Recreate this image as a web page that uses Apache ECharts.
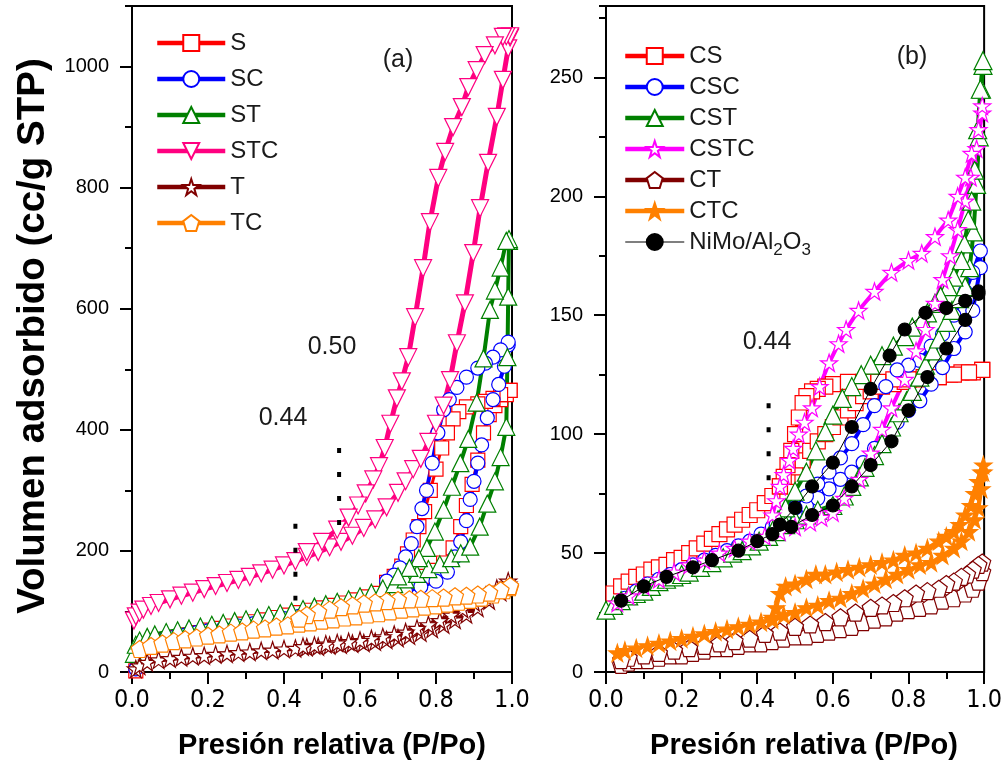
<!DOCTYPE html>
<html><head><meta charset="utf-8">
<script src="https://cdn.jsdelivr.net/npm/echarts@6/dist/echarts.min.js"></script>
<style>html,body{margin:0;padding:0;background:#fff}#c{width:1005px;height:769px}</style>
</head><body><div id="c"></div>
<script>
// ---------- tick values ----------
const xTicks = [0, 0.2, 0.4, 0.6, 0.8, 1.0];
const yTicksA = [0, 200, 400, 600, 800, 1000];
const yTicksB = [0, 50, 100, 150, 200, 250];

// ---------- panel (a) : [P/Po, volume] adsorption / desorption ----------
const S_ads = [[0.01,2],[0.02,20],[0.03,35],[0.05,45],[0.08,52],[0.11,57],[0.14,61],[0.17,65],[0.2,69],[0.23,72],[0.26,76],[0.29,79],[0.32,83],[0.35,86],[0.38,90],[0.41,94],[0.44,98],[0.47,102],[0.5,106],[0.53,110],[0.56,114],[0.59,119],[0.62,124],[0.65,130],[0.68,136],[0.71,143],[0.74,150],[0.77,158],[0.8,168],[0.82,180],[0.845,205],[0.865,240],[0.88,275],[0.895,310],[0.91,350],[0.925,395],[0.94,425],[0.955,440],[0.97,450],[0.985,458],[0.995,465]];
const S_des = [[0.995,465],[0.97,458],[0.95,452],[0.93,447],[0.91,443],[0.88,438],[0.86,430],[0.845,418],[0.83,395],[0.815,370],[0.8,335],[0.785,300],[0.77,265],[0.755,240],[0.74,218],[0.725,195],[0.71,175],[0.69,158],[0.67,148]];

const SC_ads = [[0.01,5],[0.02,25],[0.03,38],[0.05,46],[0.08,52],[0.11,57],[0.14,61],[0.17,65],[0.2,68],[0.24,72],[0.28,76],[0.32,80],[0.36,84],[0.4,88],[0.44,92],[0.48,96],[0.52,101],[0.56,106],[0.6,112],[0.64,118],[0.68,125],[0.72,133],[0.76,141],[0.8,150],[0.83,165],[0.85,190],[0.865,215],[0.88,250],[0.89,285],[0.9,315],[0.91,345],[0.92,375],[0.935,420],[0.95,450],[0.965,475],[0.98,505],[0.99,540]];
const SC_des = [[0.99,545],[0.97,532],[0.95,520],[0.93,510],[0.91,502],[0.88,487],[0.855,470],[0.835,450],[0.82,433],[0.805,395],[0.79,345],[0.775,300],[0.763,270],[0.75,240],[0.735,212],[0.72,190],[0.705,172],[0.69,160],[0.67,150]];

const ST_ads = [[0.005,30],[0.01,45],[0.02,52],[0.04,58],[0.06,62],[0.09,66],[0.12,69],[0.15,72],[0.18,75],[0.21,78],[0.24,81],[0.27,84],[0.3,87],[0.33,90],[0.36,94],[0.39,97],[0.42,100],[0.45,104],[0.48,108],[0.51,112],[0.54,116],[0.57,120],[0.6,125],[0.63,131],[0.66,138],[0.69,145],[0.72,153],[0.75,162],[0.78,170],[0.81,178],[0.84,188],[0.865,196],[0.89,207],[0.915,240],[0.935,278],[0.955,315],[0.97,355],[0.985,405],[0.988,520],[0.99,620],[0.992,712]];
const ST_des = [[0.992,715],[0.985,712],[0.97,668],[0.955,630],[0.942,598],[0.925,518],[0.907,445],[0.885,385],[0.864,345],[0.842,306],[0.82,268],[0.797,232],[0.776,205],[0.755,188],[0.73,172],[0.7,158]];

const STC_ads = [[0.005,85],[0.01,92],[0.02,98],[0.03,103],[0.05,109],[0.07,114],[0.1,120],[0.13,126],[0.16,131],[0.19,137],[0.22,142],[0.25,147],[0.28,152],[0.31,157],[0.34,163],[0.37,169],[0.4,176],[0.43,183],[0.46,190],[0.49,198],[0.52,206],[0.55,215],[0.58,225],[0.61,238],[0.64,252],[0.67,272],[0.7,296],[0.72,315],[0.74,335],[0.76,352],[0.78,380],[0.8,410],[0.82,440],[0.837,482],[0.855,543],[0.876,609],[0.898,692],[0.916,766],[0.937,841],[0.96,917],[0.976,978],[0.99,1030],[0.995,1048]];
const STC_des = [[0.995,1050],[0.985,1050],[0.976,1049],[0.955,1035],[0.928,1019],[0.907,994],[0.885,966],[0.868,933],[0.845,900],[0.824,859],[0.806,816],[0.784,743],[0.766,667],[0.745,586],[0.727,520],[0.71,480],[0.697,452],[0.68,410],[0.665,370],[0.65,340],[0.635,318],[0.615,295],[0.595,275],[0.57,255],[0.54,235],[0.5,215],[0.46,198]];

const T_ads = [[0.01,5],[0.02,10],[0.04,16],[0.07,20],[0.1,22],[0.13,24],[0.16,26],[0.19,27],[0.22,29],[0.25,30],[0.28,32],[0.31,33],[0.34,35],[0.37,36],[0.4,38],[0.43,39],[0.46,41],[0.49,42],[0.52,44],[0.55,45],[0.58,47],[0.61,48],[0.64,50],[0.67,53],[0.7,56],[0.73,60],[0.76,65],[0.79,71],[0.82,78],[0.85,86],[0.88,95],[0.91,106],[0.94,118],[0.97,132],[0.99,145]];
const T_des = [[0.99,150],[0.96,138],[0.93,126],[0.9,115],[0.87,104],[0.84,94],[0.81,85],[0.78,78],[0.75,72],[0.72,66],[0.69,62],[0.66,58],[0.63,55],[0.6,52],[0.57,50],[0.54,48],[0.51,46],[0.48,44],[0.45,42]];

const TC_ads = [[0.02,38],[0.05,43],[0.08,47],[0.11,51],[0.14,54],[0.17,57],[0.2,60],[0.23,62],[0.26,65],[0.29,67],[0.32,70],[0.35,72],[0.38,75],[0.41,77],[0.44,80],[0.47,82],[0.5,85],[0.53,87],[0.56,90],[0.59,92],[0.62,95],[0.65,97],[0.68,100],[0.71,103],[0.74,105],[0.77,108],[0.8,110],[0.83,113],[0.86,116],[0.89,119],[0.92,123],[0.95,128],[0.98,135],[0.995,140]];
const TC_des = [[0.995,142],[0.97,135],[0.94,131],[0.91,128],[0.88,126],[0.85,125],[0.82,123],[0.79,122],[0.76,121],[0.73,120],[0.7,119],[0.67,117],[0.64,115],[0.61,113],[0.58,110],[0.55,107],[0.52,103],[0.49,99],[0.46,94],[0.44,88]];

// ---------- panel (b) ----------
const CS_ads = [[0.02,33],[0.04,36],[0.06,38],[0.08,40],[0.1,41],[0.12,43],[0.14,44],[0.16,45],[0.18,47],[0.2,48],[0.22,50],[0.24,52],[0.26,54],[0.28,56],[0.3,58],[0.32,60],[0.34,62],[0.36,64],[0.38,66],[0.4,68],[0.42,71],[0.44,74],[0.46,78],[0.48,82],[0.5,86],[0.52,89],[0.54,93],[0.56,97],[0.58,100],[0.6,103],[0.62,107],[0.64,110],[0.66,113],[0.68,116],[0.7,118],[0.73,120],[0.76,121],[0.79,122],[0.82,123],[0.85,124],[0.88,124],[0.91,125],[0.94,126],[0.97,126],[0.995,127]];
const CS_des = [[0.995,127],[0.96,126],[0.92,125],[0.88,124],[0.84,124],[0.8,123],[0.76,123],[0.72,122],[0.68,122],[0.64,122],[0.6,121],[0.58,120],[0.56,119],[0.545,118],[0.53,116],[0.52,113],[0.51,107],[0.5,100],[0.49,93],[0.48,87],[0.47,82],[0.46,78]];

const CSC_ads = [[0.03,28],[0.05,31],[0.08,34],[0.11,37],[0.14,39],[0.17,41],[0.2,43],[0.23,45],[0.26,47],[0.29,49],[0.32,51],[0.35,53],[0.38,55],[0.41,58],[0.44,61],[0.47,64],[0.5,67],[0.53,70],[0.56,73],[0.59,77],[0.62,81],[0.65,84],[0.68,88],[0.71,94],[0.74,100],[0.77,105],[0.8,110],[0.83,114],[0.86,121],[0.89,128],[0.92,136],[0.95,143],[0.97,152],[0.99,170]];
const CSC_des = [[0.99,177],[0.97,168],[0.95,160],[0.92,150],[0.89,142],[0.86,137],[0.83,131],[0.8,129],[0.77,127],[0.74,120],[0.71,112],[0.68,104],[0.65,96],[0.62,90],[0.59,84],[0.56,79],[0.53,74],[0.5,69],[0.47,65],[0.45,62]];

const CST_ads = [[0.0,26],[0.02,28],[0.04,30],[0.06,32],[0.08,33],[0.1,34],[0.12,36],[0.14,38],[0.16,39],[0.18,40],[0.2,41],[0.22,42],[0.25,44],[0.28,46],[0.31,48],[0.335,50],[0.36,51],[0.385,53],[0.405,55],[0.43,57],[0.45,59],[0.475,62],[0.5,64],[0.53,66],[0.56,68],[0.6,70],[0.63,74],[0.65,78],[0.67,82],[0.685,86],[0.71,91],[0.73,96],[0.755,103],[0.775,109],[0.795,114],[0.81,118],[0.83,124],[0.845,129],[0.865,135],[0.88,140],[0.9,147],[0.915,152],[0.935,157],[0.95,162],[0.962,170],[0.972,185],[0.98,205],[0.987,225],[0.993,245],[0.997,255]];
const CST_des = [[0.997,257],[0.99,245],[0.983,228],[0.975,211],[0.967,198],[0.958,190],[0.948,180],[0.94,173],[0.92,166],[0.905,162],[0.885,158],[0.87,155],[0.85,151],[0.835,148],[0.81,145],[0.79,141],[0.76,137],[0.73,133],[0.7,129],[0.675,125],[0.65,120],[0.625,115],[0.6,108],[0.58,101],[0.555,93],[0.53,84],[0.5,76],[0.475,69],[0.455,64]];

const CSTC_ads = [[0.03,29],[0.06,32],[0.1,36],[0.14,39],[0.18,42],[0.22,45],[0.26,47],[0.3,50],[0.34,52],[0.38,55],[0.42,57],[0.46,59],[0.5,61],[0.54,63],[0.57,65],[0.6,67],[0.63,73],[0.67,81],[0.7,92],[0.73,102],[0.755,111],[0.79,123],[0.82,135],[0.845,144],[0.87,155],[0.89,165],[0.91,175],[0.93,186],[0.95,198],[0.965,208],[0.98,220],[0.995,235]];
const CSTC_des = [[0.995,238],[0.985,228],[0.967,218],[0.95,208],[0.93,200],[0.905,190],[0.87,183],[0.835,176],[0.8,173],[0.755,168],[0.71,160],[0.668,152],[0.635,144],[0.615,138],[0.59,130],[0.565,120],[0.545,111],[0.525,105],[0.51,100],[0.495,94],[0.485,89],[0.47,83],[0.46,78],[0.45,72],[0.44,66]];

const CT_ads = [[0.04,3],[0.06,4],[0.08,5],[0.11,5],[0.14,6],[0.17,7],[0.2,7],[0.23,8],[0.26,9],[0.29,10],[0.32,10],[0.35,11],[0.38,12],[0.41,12],[0.44,13],[0.47,14],[0.5,15],[0.53,15],[0.56,16],[0.59,17],[0.62,18],[0.65,19],[0.68,21],[0.71,22],[0.74,23],[0.77,25],[0.8,26],[0.83,27],[0.86,28],[0.89,30],[0.92,31],[0.95,33],[0.97,35],[0.985,38],[0.995,42]];
const CT_des = [[0.995,46],[0.985,45],[0.97,43],[0.955,41],[0.94,40],[0.92,38],[0.9,37],[0.88,35],[0.85,34],[0.82,33],[0.79,31],[0.76,29],[0.73,28],[0.7,27],[0.66,25],[0.62,23],[0.58,21],[0.54,20],[0.5,19],[0.46,17],[0.42,16],[0.38,14],[0.34,13],[0.3,12],[0.26,11],[0.22,10],[0.18,9],[0.14,8],[0.1,7],[0.06,6],[0.04,5]];

const CTC_ads = [[0.03,8],[0.05,9],[0.08,10],[0.11,11],[0.14,12],[0.17,13],[0.2,14],[0.23,15],[0.26,16],[0.29,17],[0.32,18],[0.35,19],[0.38,20],[0.41,21],[0.44,22],[0.47,24],[0.5,25],[0.53,27],[0.56,28],[0.59,30],[0.62,31],[0.65,33],[0.68,35],[0.71,37],[0.74,39],[0.77,41],[0.8,43],[0.83,45],[0.86,46],[0.89,49],[0.92,52],[0.94,55],[0.96,59],[0.975,64],[0.985,69],[0.993,77],[0.998,84]];
const CTC_des = [[0.998,87],[0.993,84],[0.985,80],[0.975,75],[0.965,70],[0.95,66],[0.935,62],[0.92,59],[0.9,57],[0.88,55],[0.85,52],[0.82,50],[0.79,49],[0.76,47],[0.73,46],[0.7,45],[0.67,44],[0.64,43],[0.61,42],[0.58,41],[0.555,41],[0.53,39],[0.5,37],[0.475,36],[0.46,33],[0.45,27],[0.44,23]];

const NiMo_ads = [[0.04,30],[0.1,36],[0.16,40],[0.23,44],[0.28,47],[0.35,51],[0.4,55],[0.44,58],[0.49,61],[0.545,66],[0.6,70],[0.65,78],[0.7,87],[0.755,97],[0.8,110],[0.85,124],[0.9,136],[0.95,148],[0.985,159]];
const NiMo_des = [[0.985,160],[0.95,156],[0.9,153],[0.845,151],[0.79,144],[0.75,133],[0.7,119],[0.65,103],[0.6,88],[0.545,78],[0.5,69],[0.46,62]];

// dotted guide segments (P/Po, from, to)
const guidesA = [[0.43, 245, 118], [0.545, 370, 240]];
const guidesB = [[0.43, 113, 80]];

// ---------- styling ----------
const F = 'Liberation Sans, Arial, sans-serif';
const STAR = 'path://M50,0 L61.8,35.1 L98.6,35.1 L68.9,56.7 L80.2,91.9 L50,70.3 L19.8,91.9 L31.1,56.7 L1.4,35.1 L38.2,35.1 Z';
const PENT = 'path://M50,0 L100,37 L81,97 L19,97 L0,37 Z';

function iso(name, ads, des, color, symbol, size, lw, opts) {
  opts = opts || {};
  return {
    type: 'line', name: name, xAxisIndex: opts.g, yAxisIndex: opts.g * 2,
    data: ads.concat(des), symbol: symbol, symbolSize: size,
    symbolRotate: opts.rot || 0, showSymbol: true, clip: true,
    color: color,
    lineStyle: { color: color, width: lw },
    itemStyle: { color: opts.filled ? color : '#fff', borderColor: color, borderWidth: 1.2 },
    emphasis: { disabled: true }, z: opts.z || 2
  };
}
function guide(g, seg) {
  return { type: 'line', xAxisIndex: g, yAxisIndex: g * 2, data: [[seg[0], seg[1]], [seg[0], seg[2]]],
    symbol: 'none', lineStyle: { color: '#000', width: 4, type: [5, 19] }, silent: true, z: 5 };
}

const RED = '#ff0000', BLUE = '#0000ff', GREEN = '#008000', PINK = '#ff0080', DRED = '#800000', ORANGE = '#ff8000', MAG = '#ff00ff';

const series = [
  iso('S', S_ads, S_des, RED, 'rect', 14, 3, {g: 0}),
  iso('SC', SC_ads, SC_des, BLUE, 'circle', 14, 4, {g: 0}),
  iso('ST', ST_ads, ST_des, GREEN, 'triangle', 17, 4, {g: 0}),
  iso('STC', STC_ads, STC_des, PINK, 'triangle', 17, 5, {g: 0, rot: 180}),
  iso('T', T_ads, T_des, DRED, STAR, 17, 5, {g: 0}),
  iso('TC', TC_ads, TC_des, ORANGE, PENT, 17, 3, {g: 0}),
  iso('CS', CS_ads, CS_des, RED, 'rect', 15, 4, {g: 1}),
  iso('CSC', CSC_ads, CSC_des, BLUE, 'circle', 14, 4, {g: 1}),
  iso('CST', CST_ads, CST_des, GREEN, 'triangle', 18, 4, {g: 1}),
  iso('CSTC', CSTC_ads, CSTC_des, MAG, STAR, 17, 4, {g: 1}),
  iso('CT', CT_ads, CT_des, DRED, PENT, 17, 3, {g: 1}),
  iso('CTC', CTC_ads, CTC_des, ORANGE, STAR, 17, 4, {g: 1, filled: true}),
  iso('NiMo/Al2O3', NiMo_ads, NiMo_des, '#000', 'circle', 13, 1, {g: 1, filled: true, z: 3})
];
guidesA.forEach(s => series.push(guide(0, s)));
guidesB.forEach(s => series.push(guide(1, s)));

function xAx(g) {
  return { type: 'value', gridIndex: g, min: 0, max: 1, interval: 0.2,
    axisLine: { lineStyle: { color: '#000', width: 2 } },
    axisTick: { length: 12, lineStyle: { color: '#000', width: 2 } },
    minorTick: { show: true, splitNumber: 2, length: 7, lineStyle: { color: '#000', width: 2 } },
    splitLine: { show: false },
    axisLabel: { color: '#000', fontFamily: "'Liberation Sans Narrow','Arial Narrow','DejaVu Sans Condensed',sans-serif",
      fontSize: 25, margin: 16, formatter: v => v.toFixed(1), customValues: xTicks } };
}
function yAx(g, max, major, minor, ticks) {
  return [{ type: 'value', gridIndex: g, min: 0, max: max, interval: major,
    axisLine: { show: true, lineStyle: { color: '#000', width: 2 } },
    axisTick: { show: true, length: 12, lineStyle: { color: '#000', width: 2 }, customValues: ticks },
    splitLine: { show: false },
    axisLabel: { color: '#000', fontFamily: F, fontSize: 20, margin: 23, customValues: ticks, formatter: v => String(v) } },
  { type: 'value', gridIndex: g, min: 0, max: max, interval: minor, position: 'left',
    axisLine: { show: false }, axisLabel: { show: false }, splitLine: { show: false },
    axisTick: { show: true, length: 7, lineStyle: { color: '#000', width: 2 } } }];
}

const legendText = { fontFamily: F, fontSize: 24, color: '#1a1a1a',
  rich: { s: { fontFamily: F, fontSize: 17, color: '#1a1a1a', padding: [16, 0, 0, 0] }, n: { fontFamily: F, fontSize: 24, color: '#1a1a1a' } } };

const option = {
  animation: false,
  backgroundColor: '#fff',
  grid: [
    { left: 132, top: 6, width: 380, height: 666, show: true, borderColor: '#000', borderWidth: 2, containLabel: false },
    { left: 606, top: 6, width: 380, height: 666, show: true, borderColor: '#000', borderWidth: 2, containLabel: false }
  ],
  xAxis: [xAx(0), xAx(1)],
  yAxis: yAx(0, 1100, 100, 100, yTicksA).concat(yAx(1, 280, 25, 25, yTicksB)),
  legend: [
    { orient: 'vertical', left: 155, top: 31, padding: 0, itemWidth: 68, itemHeight: 20, itemGap: 12,
      lineStyle: { width: 4.5 },
      data: ['S', 'SC', 'ST', 'STC', 'T', 'TC'], textStyle: legendText, symbolRotate: 'inherit', selectedMode: false },
    { orient: 'vertical', left: 623, top: 44, padding: 0, itemWidth: 59, itemHeight: 20, itemGap: 7,
      lineStyle: { width: 4.5 },
      data: ['CS', 'CSC', 'CST', 'CSTC', 'CT', 'CTC', { name: 'NiMo/Al2O3', lineStyle: { width: 1.2 } }],
      textStyle: legendText, symbolRotate: 'inherit', selectedMode: false,
      formatter: n => n === 'NiMo/Al2O3' ? '{n|NiMo/Al}{s|2}{n|O}{s|3}' : n }
  ],
  graphic: [
    { type: 'text', x: 33, y: 336, rotation: Math.PI / 2, style: { text: 'Volumen adsorbido (cc/g STP)', fontFamily: F, fontWeight: 'bold', fontSize: 38.5, fill: '#000', align: 'center', verticalAlign: 'middle' } },
    { type: 'text', x: 332, y: 746, style: { text: 'Presión relativa (P/Po)', fontFamily: F, fontWeight: 'bold', fontSize: 29, fill: '#000', align: 'center', verticalAlign: 'middle' } },
    { type: 'text', x: 804, y: 746, style: { text: 'Presión relativa (P/Po)', fontFamily: F, fontWeight: 'bold', fontSize: 29, fill: '#000', align: 'center', verticalAlign: 'middle' } },
    { type: 'text', x: 398, y: 60, style: { text: '(a)', fontFamily: F, fontSize: 25, fill: '#1a1a1a', align: 'center', verticalAlign: 'middle' } },
    { type: 'text', x: 912, y: 57, style: { text: '(b)', fontFamily: F, fontSize: 25, fill: '#1a1a1a', align: 'center', verticalAlign: 'middle' } },
    { type: 'text', x: 332, y: 347, style: { text: '0.50', fontFamily: F, fontSize: 25, fill: '#1a1a1a', align: 'center', verticalAlign: 'middle' } },
    { type: 'text', x: 283, y: 418, style: { text: '0.44', fontFamily: F, fontSize: 25, fill: '#1a1a1a', align: 'center', verticalAlign: 'middle' } },
    { type: 'text', x: 767, y: 342, style: { text: '0.44', fontFamily: F, fontSize: 25, fill: '#1a1a1a', align: 'center', verticalAlign: 'middle' } }
  ],
  series: series
};
const chart = echarts.init(document.getElementById('c'), null, { renderer: 'canvas' });
chart.setOption(option);
</script></body></html>
